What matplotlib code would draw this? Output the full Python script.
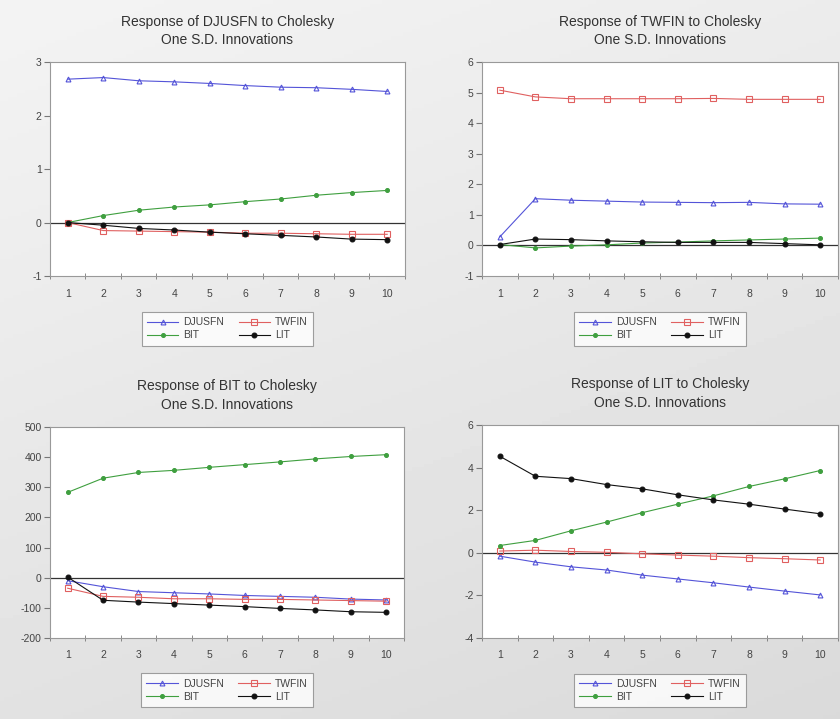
import numpy as np
import matplotlib.pyplot as plt

plt.rcParams['font.family'] = ['Liberation Sans', 'DejaVu Sans']
plt.rcParams['axes.unicode_minus'] = False

# Impulse response horizon
periods = np.arange(1, 11)

# Response of DJUSFN
djusfn_djusfn = [2.68, 2.71, 2.65, 2.63, 2.60, 2.56, 2.53, 2.52, 2.49, 2.45]
djusfn_twfin = [0.00, -0.15, -0.16, -0.17, -0.18, -0.20, -0.20, -0.21, -0.22, -0.22]
djusfn_bit = [0.00, 0.13, 0.23, 0.29, 0.33, 0.39, 0.44, 0.51, 0.56, 0.60]
djusfn_lit = [0.00, -0.05, -0.11, -0.14, -0.18, -0.21, -0.24, -0.27, -0.31, -0.32]

# Response of TWFIN
twfin_djusfn = [0.28, 1.53, 1.48, 1.45, 1.42, 1.41, 1.40, 1.41, 1.36, 1.35]
twfin_twfin = [5.08, 4.86, 4.80, 4.80, 4.80, 4.80, 4.81, 4.78, 4.78, 4.78]
twfin_bit = [0.03, -0.08, -0.02, 0.02, 0.08, 0.11, 0.15, 0.18, 0.21, 0.24]
twfin_lit = [0.03, 0.21, 0.19, 0.15, 0.12, 0.10, 0.10, 0.10, 0.06, 0.02]

# Response of BIT
bit_djusfn = [-10, -30, -46, -50, -54, -59, -62, -65, -71, -74]
bit_twfin = [-35, -62, -65, -70, -70, -72, -72, -74, -76, -78]
bit_bit = [283, 330, 349, 356, 366, 375, 384, 394, 402, 408]
bit_lit = [2, -75, -81, -86, -91, -96, -102, -107, -113, -115]

# Response of LIT
lit_djusfn = [-0.16, -0.44, -0.66, -0.81, -1.05, -1.23, -1.41, -1.61, -1.80, -1.98]
lit_twfin = [0.08, 0.12, 0.06, 0.02, -0.05, -0.11, -0.16, -0.23, -0.28, -0.34]
lit_bit = [0.34, 0.58, 1.03, 1.44, 1.88, 2.28, 2.67, 3.11, 3.47, 3.86]
lit_lit = [4.53, 3.59, 3.48, 3.20, 3.00, 2.72, 2.48, 2.28, 2.05, 1.83]

panels = [
    ('DJUSFN', [djusfn_djusfn, djusfn_twfin, djusfn_bit, djusfn_lit], (-1, 3), [-1, 0, 1, 2, 3]),
    ('TWFIN', [twfin_djusfn, twfin_twfin, twfin_bit, twfin_lit], (-1, 6), [-1, 0, 1, 2, 3, 4, 5, 6]),
    ('BIT', [bit_djusfn, bit_twfin, bit_bit, bit_lit], (-200, 500), [-200, -100, 0, 100, 200, 300, 400, 500]),
    ('LIT', [lit_djusfn, lit_twfin, lit_bit, lit_lit], (-4, 6), [-4, -2, 0, 2, 4, 6]),
]

names = ['DJUSFN', 'TWFIN', 'BIT', 'LIT']
colors = ['#5454d8', '#e06060', '#3f9f3f', '#111111']
markers = ['^', 's', 'o', 'o']
mfaces = ['none', 'none', '#3f9f3f', '#111111']
msizes = [3.5, 4, 2.8, 3.5]

# axes rectangles in figure fractions
rects = [
    [0.0595, 0.6161, 0.4226, 0.2976],
    [0.5738, 0.6161, 0.4238, 0.2976],
    [0.0595, 0.1127, 0.4214, 0.2935],
    [0.5738, 0.1127, 0.4238, 0.2963],
]

fig = plt.figure(figsize=(8.4, 7.19), dpi=100)

# light gray gradient behind everything
bg = fig.add_axes([0, 0, 1, 1], zorder=-10)
yy, xx = np.mgrid[0:1:200j, 0:1:200j]
shade = 0.955 - 0.10 * (0.7 * yy + 0.3 * xx)
bg.imshow(shade, cmap='gray', vmin=0, vmax=1, aspect='auto', extent=(0, 1, 0, 1))
bg.axis('off')

for (resp, series, ylim, yticks), rect in zip(panels, rects):
    ax = fig.add_axes(rect)
    ax.set_facecolor('white')
    for i in range(4):
        ax.plot(periods, series[i], color=colors[i], lw=0.8, marker=markers[i],
                markersize=msizes[i], markerfacecolor=mfaces[i],
                markeredgecolor=colors[i], markeredgewidth=0.8, label=names[i])
    ax.axhline(0, color='#333333', lw=0.9, zorder=1)
    ax.set_xlim(0.5, 10.5)
    ax.set_ylim(*ylim)
    ax.set_yticks(yticks)
    ax.set_xticks(periods)
    ax.set_xticks(np.arange(0.5, 11, 1), minor=True)
    ax.tick_params(axis='x', which='major', length=0, pad=9, labelsize=7.5, labelcolor='#444444')
    ax.tick_params(axis='x', which='minor', direction='inout', length=5, color='#777777')
    ax.tick_params(axis='y', direction='out', length=4, color='#777777', labelsize=7.5,
                   labelcolor='#444444', pad=2)
    for sp in ax.spines.values():
        sp.set_color('#999999')
        sp.set_linewidth(0.8)
    ax.set_title('Response of %s to Cholesky\nOne S.D. Innovations' % resp,
                 fontsize=10, color='#333333', pad=13, linespacing=1.4)
    h, l = ax.get_legend_handles_labels()
    order = [0, 2, 1, 3]
    leg = ax.legend([h[k] for k in order], [l[k] for k in order], ncol=2,
                    loc='upper center', bbox_to_anchor=(0.5, -0.168), borderaxespad=0,
                    fontsize=7.5, frameon=True, fancybox=False, edgecolor='#888888',
                    handlelength=3, columnspacing=1.4, labelspacing=0.3,
                    borderpad=0.5, handletextpad=0.5)
    leg.get_frame().set_linewidth(0.8)
    for t in leg.get_texts():
        t.set_color('#444444')

fig.savefig('out.png', dpi=100)
